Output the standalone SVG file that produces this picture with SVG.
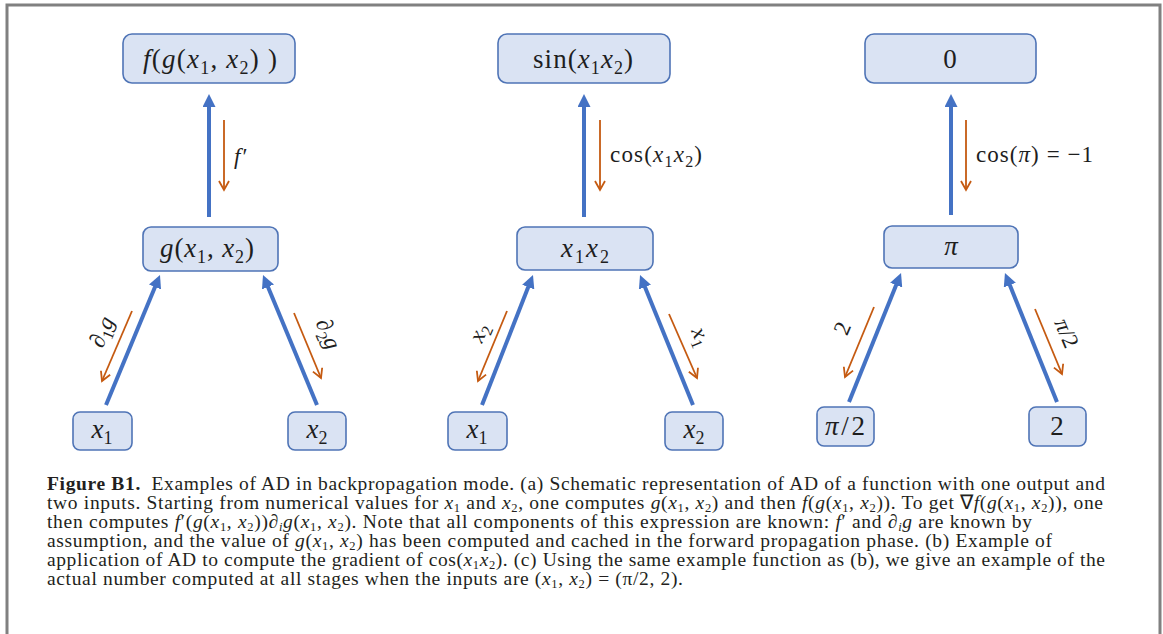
<svg xmlns="http://www.w3.org/2000/svg" width="1163" height="634" viewBox="0 0 1163 634">
<style>
.node{fill:#dae3f3;stroke:#4f74b6;stroke-width:1.6}
.blue{stroke:#4472c4;stroke-width:4;fill:none}
.orng{stroke:#c55a11;stroke-width:1.8;fill:none}
.m{font-family:"Liberation Serif",serif;font-size:27px;fill:#1e1e1e;text-anchor:middle}
.l{font-family:"Liberation Serif",serif;font-size:23px;fill:#1e1e1e}
.i{font-style:italic}
.ms{font-size:18px;baseline-shift:-6px}
.ls{font-size:16px;baseline-shift:-5px}
.cap{font-family:"Liberation Serif",serif;font-size:19.5px;fill:#231f20}
.cs{font-size:12.5px;baseline-shift:-3px}
</style>
<defs>
<marker id="bh" markerUnits="userSpaceOnUse" viewBox="0 0 13 13" markerWidth="13" markerHeight="13" refX="7" refY="6.5" orient="auto">
<path d="M0,0 L13,6.5 L0,13 Z" fill="#4472c4"/>
</marker>
<marker id="oh" markerUnits="userSpaceOnUse" viewBox="-1 -1 12 12" markerWidth="12" markerHeight="12" refX="9" refY="5" orient="auto" overflow="visible">
<path d="M0,0 L9,5 L0,10" fill="none" stroke="#c55a11" stroke-width="1.8"/>
</marker>
</defs>
<rect width="1163" height="634" fill="#ffffff"/>
<path d="M7,634 V5 H1160 V634" fill="none" stroke="#808080" stroke-width="3"/>

<g id="connectors">
<line class="blue" x1="209" y1="217" x2="209" y2="100" marker-end="url(#bh)"/>
<line class="blue" x1="106" y1="405" x2="157.7" y2="280.5" marker-end="url(#bh)"/>
<line class="blue" x1="317" y1="405" x2="265.3" y2="280.5" marker-end="url(#bh)"/>
<line class="orng" x1="224" y1="120" x2="224" y2="190" marker-end="url(#oh)"/>
<line class="orng" x1="132" y1="311" x2="102" y2="381" marker-end="url(#oh)"/>
<line class="orng" x1="294" y1="313" x2="321" y2="378" marker-end="url(#oh)"/>

<line class="blue" x1="584" y1="217" x2="584" y2="100" marker-end="url(#bh)"/>
<line class="blue" x1="482" y1="405" x2="530.8" y2="280.6" marker-end="url(#bh)"/>
<line class="blue" x1="693" y1="405" x2="642.3" y2="280.6" marker-end="url(#bh)"/>
<line class="orng" x1="600" y1="120" x2="600" y2="190" marker-end="url(#oh)"/>
<line class="orng" x1="507" y1="311" x2="478" y2="381" marker-end="url(#oh)"/>
<line class="orng" x1="669" y1="314" x2="697" y2="378" marker-end="url(#oh)"/>

<line class="blue" x1="951" y1="215" x2="951" y2="100" marker-end="url(#bh)"/>
<line class="blue" x1="849" y1="402" x2="898.8" y2="278.6" marker-end="url(#bh)"/>
<line class="blue" x1="1057" y1="402" x2="1007.2" y2="278.6" marker-end="url(#bh)"/>
<line class="orng" x1="966" y1="120" x2="966" y2="190" marker-end="url(#oh)"/>
<line class="orng" x1="874" y1="307" x2="845" y2="377" marker-end="url(#oh)"/>
<line class="orng" x1="1035" y1="309" x2="1062" y2="374" marker-end="url(#oh)"/>
</g>

<g id="edge-labels">
<text class="l" x="234" y="164"><tspan class="i">f</tspan><tspan dx="2">′</tspan></text>
<text class="l" x="610" y="162" textLength="92" lengthAdjust="spacing">cos(<tspan class="i">x</tspan><tspan class="ls">1</tspan><tspan class="i">x</tspan><tspan class="ls">2</tspan>)</text>
<text class="l" x="976" y="162" textLength="117" lengthAdjust="spacing">cos(<tspan class="i">π</tspan>) = −1</text>
<text class="l" text-anchor="middle" transform="translate(102,332) rotate(-67)" y="7"><tspan class="i">∂</tspan><tspan class="ls">1</tspan><tspan class="i">g</tspan></text>
<text class="l" text-anchor="middle" transform="translate(328,334) rotate(67)" y="7"><tspan class="i">∂</tspan><tspan class="ls">2</tspan><tspan class="i">g</tspan></text>
<text class="l" text-anchor="middle" transform="translate(480,333) rotate(-67)" y="6"><tspan class="i">x</tspan><tspan class="ls">2</tspan></text>
<text class="l" text-anchor="middle" transform="translate(700,337) rotate(67)" y="6"><tspan class="i">x</tspan><tspan class="ls">1</tspan></text>
<text class="l" text-anchor="middle" transform="translate(842,328) rotate(-67)" y="8">2</text>
<text class="l" text-anchor="middle" transform="translate(1067,333) rotate(67)" y="8"><tspan class="i">π</tspan>/2</text>
</g>

<g id="node-a-top"><rect class="node" x="123" y="34" width="172" height="49" rx="9"/>
<text class="m" x="210" y="68" textLength="134" lengthAdjust="spacing"><tspan class="i">f</tspan>(<tspan class="i">g</tspan>(<tspan class="i">x</tspan><tspan class="ms">1</tspan>, <tspan class="i">x</tspan><tspan class="ms">2</tspan>) )</text></g>
<g id="node-a-mid"><rect class="node" x="143" y="227" width="135" height="44" rx="8"/>
<text class="m" x="207" y="257" textLength="94" lengthAdjust="spacing"><tspan class="i">g</tspan>(<tspan class="i">x</tspan><tspan class="ms">1</tspan>, <tspan class="i">x</tspan><tspan class="ms">2</tspan>)</text></g>
<g id="node-a-x1"><rect class="node" x="73" y="412" width="59" height="38" rx="7"/>
<text class="m" x="102" y="438"><tspan class="i">x</tspan><tspan class="ms">1</tspan></text></g>
<g id="node-a-x2"><rect class="node" x="288" y="412" width="58" height="38" rx="7"/>
<text class="m" x="317" y="438"><tspan class="i">x</tspan><tspan class="ms">2</tspan></text></g>

<g id="node-b-top"><rect class="node" x="498" y="34" width="172" height="49" rx="9"/>
<text class="m" x="583" y="68" textLength="100" lengthAdjust="spacing">sin(<tspan class="i">x</tspan><tspan class="ms">1</tspan><tspan class="i">x</tspan><tspan class="ms">2</tspan>)</text></g>
<g id="node-b-mid"><rect class="node" x="517" y="227" width="136" height="43" rx="8"/>
<text class="m" x="585" y="257" textLength="48" lengthAdjust="spacing"><tspan class="i">x</tspan><tspan class="ms">1</tspan><tspan class="i">x</tspan><tspan class="ms">2</tspan></text></g>
<g id="node-b-x1"><rect class="node" x="448" y="412" width="59" height="38" rx="7"/>
<text class="m" x="477" y="438"><tspan class="i">x</tspan><tspan class="ms">1</tspan></text></g>
<g id="node-b-x2"><rect class="node" x="665" y="412" width="58" height="38" rx="7"/>
<text class="m" x="694" y="438"><tspan class="i">x</tspan><tspan class="ms">2</tspan></text></g>

<g id="node-c-top"><rect class="node" x="865" y="34" width="171" height="49" rx="9"/>
<text class="m" x="950" y="68">0</text></g>
<g id="node-c-mid"><rect class="node" x="884" y="226" width="134" height="42" rx="8"/>
<text class="m" x="951" y="255"><tspan class="i">π</tspan></text></g>
<g id="node-c-l"><rect class="node" x="817" y="407" width="57" height="39" rx="7"/>
<text class="m" x="845" y="435" textLength="40" lengthAdjust="spacing"><tspan class="i">π</tspan>/2</text></g>
<g id="node-c-r"><rect class="node" x="1029" y="407" width="57" height="39" rx="7"/>
<text class="m" x="1057" y="435">2</text></g>

<g id="caption" class="cap">
<text x="47" y="490" textLength="1058" lengthAdjust="spacing"><tspan font-weight="bold">Figure B1.</tspan><tspan dx="5"> Examples of AD in backpropagation mode. (a) Schematic representation of AD of a function with one output and</tspan></text>
<text x="47" y="509" textLength="1056" lengthAdjust="spacing">two inputs. Starting from numerical values for <tspan class="i">x</tspan><tspan class="cs">1</tspan> and <tspan class="i">x</tspan><tspan class="cs">2</tspan>, one computes <tspan class="i">g</tspan>(<tspan class="i">x</tspan><tspan class="cs">1</tspan>, <tspan class="i">x</tspan><tspan class="cs">2</tspan>) and then <tspan class="i">f</tspan>(<tspan class="i">g</tspan>(<tspan class="i">x</tspan><tspan class="cs">1</tspan>, <tspan class="i">x</tspan><tspan class="cs">2</tspan>)). To get ∇<tspan class="i">f</tspan>(<tspan class="i">g</tspan>(<tspan class="i">x</tspan><tspan class="cs">1</tspan>, <tspan class="i">x</tspan><tspan class="cs">2</tspan>)), one</text>
<text x="47" y="528" textLength="985" lengthAdjust="spacing">then computes <tspan class="i">f</tspan>′(<tspan class="i">g</tspan>(<tspan class="i">x</tspan><tspan class="cs">1</tspan>, <tspan class="i">x</tspan><tspan class="cs">2</tspan>))<tspan class="i">∂</tspan><tspan class="cs i">i</tspan><tspan class="i">g</tspan>(<tspan class="i">x</tspan><tspan class="cs">1</tspan>, <tspan class="i">x</tspan><tspan class="cs">2</tspan>). Note that all components of this expression are known: <tspan class="i">f</tspan>′ and <tspan class="i">∂</tspan><tspan class="cs i">i</tspan><tspan class="i">g</tspan> are known by</text>
<text x="47" y="547" textLength="1005" lengthAdjust="spacing">assumption, and the value of <tspan class="i">g</tspan>(<tspan class="i">x</tspan><tspan class="cs">1</tspan>, <tspan class="i">x</tspan><tspan class="cs">2</tspan>) has been computed and cached in the forward propagation phase. (b) Example of</text>
<text x="47" y="566" textLength="1058" lengthAdjust="spacing">application of AD to compute the gradient of cos(<tspan class="i">x</tspan><tspan class="cs">1</tspan><tspan class="i">x</tspan><tspan class="cs">2</tspan>). (c) Using the same example function as (b), we give an example of the</text>
<text x="47" y="585" textLength="636" lengthAdjust="spacing">actual number computed at all stages when the inputs are (<tspan class="i">x</tspan><tspan class="cs">1</tspan>, <tspan class="i">x</tspan><tspan class="cs">2</tspan>) = (π/2, 2).</text>
</g>
</svg>
